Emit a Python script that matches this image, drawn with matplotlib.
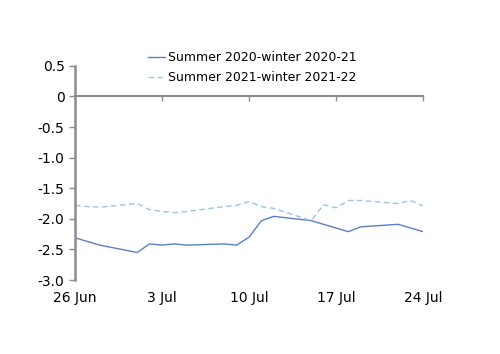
import numpy as np
import matplotlib.pyplot as plt

# days after 26 Jun (weekdays only)
days = [0, 1, 2, 5, 6, 7, 8, 9, 12, 13, 14, 15, 16, 19, 20, 21, 22, 23, 26, 27, 28]
summer_2020 = [-2.31, -2.37, -2.43, -2.55, -2.41, -2.43, -2.41, -2.43, -2.41, -2.43, -2.30,
               -2.03, -1.96, -2.03, -2.09, -2.15, -2.21, -2.13, -2.09, -2.15, -2.21]
summer_2021 = [-1.78, -1.80, -1.81, -1.75, -1.85, -1.88, -1.90, -1.88, -1.80, -1.78, -1.72,
               -1.80, -1.83, -2.03, -1.77, -1.82, -1.70, -1.70, -1.75, -1.70, -1.79]
labels = ['Summer 2020-winter 2020-21', 'Summer 2021-winter 2021-22']

x_ticks = [0, 7, 14, 21, 28]
x_labels = ['26 Jun', '3 Jul', '10 Jul', '17 Jul', '24 Jul']
y_ticks = [0.5, 0, -0.5, -1.0, -1.5, -2.0, -2.5, -3.0]
y_labels = ['0.5', '0', '-0.5', '-1.0', '-1.5', '-2.0', '-2.5', '-3.0']

grey = '#8c8c8c'

fig = plt.figure(figsize=(5, 3.54), dpi=100)
ax = fig.add_axes([0.15, 0.209, 0.696, 0.605])

ax.plot(days, summer_2020, color='#5b7fc7', lw=1.0, label=labels[0])
ax.plot(days, summer_2021, color='#9dc3e6', lw=1.0, ls=(0, (4, 2.5)), label=labels[1])

ax.set_xlim(0, 28)
ax.set_ylim(-3.0, 0.5)
ax.set_yticks(y_ticks)
ax.set_yticklabels(y_labels)
ax.set_xticks(x_ticks)
ax.set_xticklabels(x_labels)

for s in ['top', 'right', 'bottom']:
    ax.spines[s].set_visible(False)
ax.spines['left'].set_color(grey)
ax.spines['left'].set_linewidth(1.8)
ax.tick_params(axis='y', colors=grey, length=4, width=1, labelcolor='black', labelsize=10)
ax.tick_params(axis='x', length=0, labelsize=10, pad=8)

# zero line with tick marks
sec = ax.secondary_xaxis(0, transform=ax.transData)
sec.set_xticks(x_ticks)
sec.set_alignment('bottom')
sec.tick_params(axis='x', colors=grey, length=3.5, width=1, labelbottom=False, labeltop=False)
sec.spines['bottom'].set_color(grey)
sec.spines['bottom'].set_linewidth(1.5)

fig.legend(loc='upper left', bbox_to_anchor=(0.295, 0.855), frameon=False,
           fontsize=9, handlelength=1.4, handletextpad=0.2, borderpad=0,
           borderaxespad=0, labelspacing=0.55)

fig.savefig('out.png', dpi=100)
